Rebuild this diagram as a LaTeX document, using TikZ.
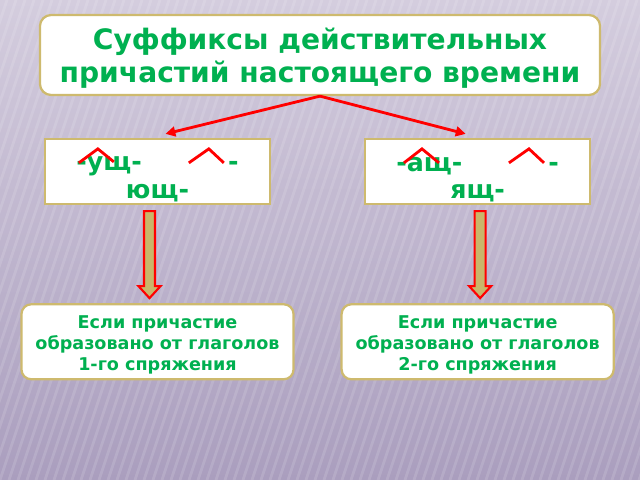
\documentclass[tikz,border=0pt]{standalone}
\usepackage{fontspec}
\setmainfont{DejaVu Sans}
\usetikzlibrary{positioning,arrows.meta}

\definecolor{ppgreen}{RGB}{0,176,80}
\definecolor{boxline}{RGB}{206,186,110}
\definecolor{arrowfill}{RGB}{201,182,106}
\definecolor{bgtop}{RGB}{212,205,222}
\definecolor{bgbot}{RGB}{170,158,190}

\tikzset{
  stripe/.style={white,opacity=0.13,line width=2pt},
  titlebox/.style={draw=boxline,line width=1.6pt,fill=white,rounded corners=8pt,
    minimum width=14cm,minimum height=2cm},
  titletext/.style={align=center,text=ppgreen,font=\bfseries\fontsize{20}{23.5}\selectfont},
  sufbox/.style={draw=boxline,line width=1.6pt,fill=white,
    minimum width=5.625cm,minimum height=1.625cm},
  suftext/.style={align=center,text=ppgreen,font=\bfseries\fontsize{18}{19.6}\selectfont},
  condbox/.style={draw=boxline,line width=1.6pt,fill=white,rounded corners=7pt,
    minimum width=6.8cm,minimum height=1.875cm},
  condtext/.style={align=center,text=ppgreen,font=\bfseries\fontsize{12.5}{14.9}\selectfont},
  redarrow/.style={draw=red,line width=2pt,-{Triangle[length=7pt,width=7pt]}},
  suffix/.style={draw=red,line width=2pt},
  blockarrow/.style={draw=red,line width=1.5pt,fill=arrowfill}
}

\begin{document}
\begin{tikzpicture}[x=0.025cm,y=-0.025cm,node distance=2.45cm and 2.32cm]
    \useasboundingbox (0,0) rectangle (640,480);
    % background
    \shade[top color=bgtop,bottom color=bgbot] (0,0) rectangle (640,480);
    \begin{scope}
      \clip (0,0) rectangle (640,480);
      \foreach \i in {-20,...,72}
        \draw[stripe] (\i*9,480) -- ++(160,-480);
    \end{scope}

    \node[titlebox] (title) at (320,55) {};
    \node[titletext] (titleText) at ([shift={(0,3)}]title.center) {Суффиксы действительных\\причастий настоящего времени};

    \node[sufbox] (sufL) at (157.5,171.5) {};
    \node[sufbox,right=of sufL] (sufR) {};
    \node[suftext] (sufLText) at ([shift={(0,8)}]sufL.center) {-ущ-\hspace{3.4em}-\\ющ-};
    \node[suftext] (sufRText) at ([shift={(0,8)}]sufR.center) {-ащ-\hspace{3.4em}-\\ящ-};

    \node[condbox,below=of sufL] (condL) {};
    \node[condbox,below=of sufR] (condR) {};
    \node[condtext] (condLText) at ([shift={(0,3)}]condL.center) {Если причастие\\образовано от глаголов\\1-го спряжения};
    \node[condtext] (condRText) at ([shift={(0,3)}]condR.center) {Если причастие\\образовано от глаголов\\2-го спряжения};

    \draw[redarrow] (title.south) -- ([shift={(8,-4)}]sufL.north);
    \draw[redarrow] (title.south) -- ([shift={(-12,-4)}]sufR.north);

    % suffix marks
    \draw[suffix] ([shift={(35,25)}]sufL.north west) -- ++(19,-14) -- ++(16,13);
    \draw[suffix] ([shift={(145,25)}]sufL.north west) -- ++(20,-14) -- ++(15,14);
    \draw[suffix] ([shift={(40,25)}]sufR.north west) -- ++(18,-14) -- ++(17,14);
    \draw[suffix] ([shift={(145,25)}]sufR.north west) -- ++(20,-14) -- ++(15,14);

    % block arrows
    \draw[blockarrow] ([shift={(-13.5,6)}]sufL.south) -- ++(11,0) -- ++(0,75) -- ++(5.5,0)
      -- ++(-11,12) -- ++(-11,-12) -- ++(5.5,0) -- cycle;
    \draw[blockarrow] ([shift={(-3,6)}]sufR.south) -- ++(11,0) -- ++(0,75) -- ++(5.5,0)
      -- ++(-11,12) -- ++(-11,-12) -- ++(5.5,0) -- cycle;
\end{tikzpicture}
\end{document}
